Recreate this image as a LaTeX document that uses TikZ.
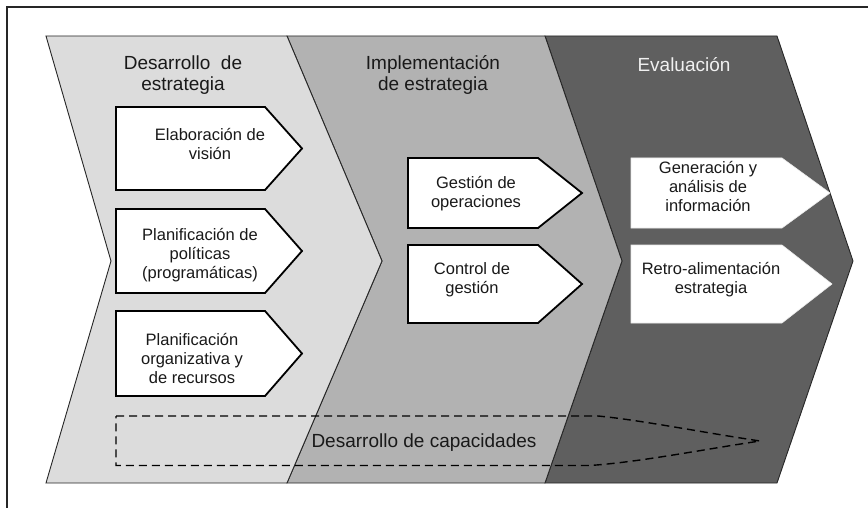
\documentclass[tikz,border=0pt]{standalone}
\usepackage{fontspec}
\setmainfont{Liberation Sans}
\begin{document}
\begin{tikzpicture}[x=1pt,y=-1pt,
  chev/.style={draw=black!85,line width=0.9pt,line join=miter},
  pentbox/.style={draw=black,fill=white,line width=1.8pt,line join=miter},
  pentw/.style={draw=white!92!black,fill=white,line width=0.6pt},
  head/.style={font=\fontsize{19}{21}\selectfont,align=center,text=black!90,inner sep=0pt},
  lbl/.style={font=\fontsize{16.5}{19}\selectfont,align=center,text=black!90,inner sep=0pt},
  capline/.style={draw=black,dashed,dash pattern=on 8pt off 5pt,line width=1.4pt,line join=miter}]
\useasboundingbox (0,0) rectangle (868,508);
\fill[white] (0,0) rectangle (868,508);
\draw[line width=1.4pt,black!85] (7,508) -- (7,7) -- (868,7);
% chevrons
\draw[chev,fill={rgb,255:red,95;green,95;blue,95}] (545,36) -- (777,36) -- (853,261) -- (777,483) -- (545,483) -- (622,261) -- cycle;
\draw[chev,fill={rgb,255:red,178;green,178;blue,178}] (287,36) -- (545,36) -- (622,261) -- (545,483) -- (287,483) -- (382,261) -- cycle;
\draw[chev,fill={rgb,255:red,220;green,220;blue,220}] (46,36) -- (287,36) -- (382,261) -- (287,483) -- (46,483) -- (111,261) -- cycle;
% headings
\node[head] (h1) at (183,75) {Desarrollo\ \ de\\estrategia};
\node[head] (h2) at (433,75) {Implementación\\de estrategia};
\node[head,text=white!94!black] (h3) at (684,65) {Evaluación};
% boxes chevron 1
\draw[pentbox] (116,107) -- (265,107) -- (302,148.5) -- (265,190) -- (116,190) -- cycle;
\draw[pentbox] (116,209) -- (265,209) -- (302,251) -- (265,293) -- (116,293) -- cycle;
\draw[pentbox] (116,311) -- (265,311) -- (302,353.5) -- (265,396) -- (116,396) -- cycle;
\node[lbl] (b1) at (210,144) {Elaboración de\\visión};
\node[lbl] (b2) at (200,255) {Planificación de\\políticas\\(programáticas)};
\node[lbl] (b3) at (192,359) {Planificación\\organizativa y\\de recursos};
% boxes chevron 2
\draw[pentbox] (408,158) -- (538,158) -- (582,193) -- (538,228) -- (408,228) -- cycle;
\draw[pentbox] (408,245) -- (538,245) -- (582,284) -- (538,323) -- (408,323) -- cycle;
\node[lbl] (c1) at (476,193.5) {Gestión de\\operaciones};
\node[lbl] (c2) at (472,280) {Control de\\gestión};
% boxes chevron 3
\draw[pentw] (631,158) -- (782,158) -- (830,193) -- (782,228) -- (631,228) -- cycle;
\draw[pentw] (631,245) -- (782,245) -- (832,284) -- (782,323) -- (631,323) -- cycle;
\node[lbl] (d1) at (708,187) {Generación y\\análisis de\\información};
\node[lbl] (d2) at (711,280) {Retro-alimentación\\estrategia};
% capacity arrow
\coordinate (tipcap) at (760,441);
\draw[capline] (116,416) -- (598,416) .. controls (640,420) and (700,432) .. (tipcap) .. controls (700,450) and (640,462) .. (590,465.5) -- (116,465.5) -- cycle;
\node[head] (cap) at (424,443) {Desarrollo de capacidades};
\end{tikzpicture}
\end{document}
